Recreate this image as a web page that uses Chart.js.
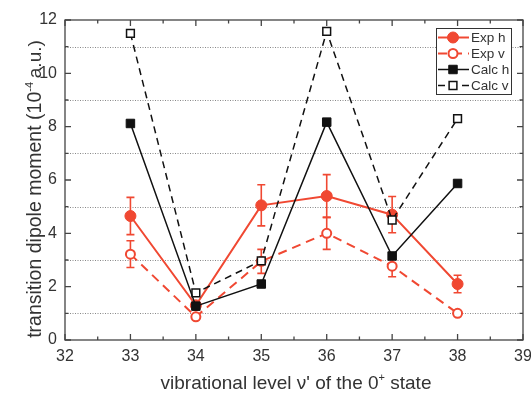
<!DOCTYPE html>
<html>
<head>
<meta charset="utf-8">
<script src="https://cdn.jsdelivr.net/npm/chart.js@4/dist/chart.umd.min.js"></script>
<style>
  html, body { margin: 0; padding: 0; background: #fff; }
  #wrap { width: 531px; height: 394px; }
</style>
</head>
<body>
<div id="wrap"><canvas id="chart" width="531" height="394"></canvas></div>
<script>
// dados
const levels = [33, 34, 35, 36, 37, 38]; // nivel vibracional v'
const expH = [4.65, 1.3, 5.05, 5.4, 4.7, 2.1];
const expHErr = [0.7, 0, 0.77, 0.8, 0.68, 0.33];
const expV = [3.22, 0.87, 2.95, 4.0, 2.77, 1.0];
const expVErr = [0.5, 0, 0.45, 0.6, 0.4, 0];
const calcH = [8.12, 1.27, 2.1, 8.17, 3.15, 5.87];
const calcV = [11.5, 1.77, 2.97, 11.57, 4.5, 8.3];

const xTicks = [32, 33, 34, 35, 36, 37, 38, 39];
const yTicks = [0, 2, 4, 6, 8, 10, 12];
const yGridLines = [1, 3, 5, 7, 9, 11]; // linhas pontilhadas

const red = 'rgb(240, 72, 50)';
const black = '#111';
const frame = '#444';
const textColor = '#333';
const font = '"Liberation Sans", Arial, sans-serif';

function pts(values) {
  return levels.map((x, i) => ({ x: x, y: values[i] }));
}

// barras de erro desenhadas pelas escalas
const errorBars = {
  id: 'errorBars',
  beforeDatasetsDraw(chart) {
    const { ctx, scales: { x, y } } = chart;
    ctx.save();
    ctx.strokeStyle = red;
    ctx.lineWidth = 1.6;
    [[expH, expHErr], [expV, expVErr]].forEach(([vals, errs]) => {
      levels.forEach((lv, i) => {
        if (!errs[i]) return;
        const px = x.getPixelForValue(lv);
        const top = y.getPixelForValue(vals[i] + errs[i]);
        const bot = y.getPixelForValue(vals[i] - errs[i]);
        ctx.beginPath();
        ctx.moveTo(px, top); ctx.lineTo(px, bot);
        ctx.moveTo(px - 4, top); ctx.lineTo(px + 4, top);
        ctx.moveTo(px - 4, bot); ctx.lineTo(px + 4, bot);
        ctx.stroke();
      });
    });
    ctx.restore();
  }
};

// moldura, ticks internos, grade pontilhada
const axesFrame = {
  id: 'axesFrame',
  beforeDatasetsDraw(chart) {
    const { ctx, chartArea: a, scales: { x, y } } = chart;
    ctx.save();
    // grade pontilhada
    ctx.strokeStyle = '#888';
    ctx.lineWidth = 1;
    ctx.setLineDash([1, 1.5]);
    yGridLines.forEach(v => {
      const py = Math.round(y.getPixelForValue(v)) + 0.5;
      ctx.beginPath(); ctx.moveTo(a.left, py); ctx.lineTo(a.right, py); ctx.stroke();
    });
    ctx.setLineDash([]);
    ctx.restore();
  },
  afterDraw(chart) {
    const { ctx, chartArea: a, scales: { x, y } } = chart;
    ctx.save();
    ctx.strokeStyle = frame;
    ctx.lineWidth = 1.3;
    ctx.strokeRect(a.left, a.top, a.right - a.left, a.bottom - a.top);
    ctx.beginPath();
    for (let v = 32; v <= 39; v += 0.5) {
      const px = x.getPixelForValue(v);
      const len = Number.isInteger(v) ? 6 : 3.5;
      ctx.moveTo(px, a.bottom); ctx.lineTo(px, a.bottom - len);
      ctx.moveTo(px, a.top); ctx.lineTo(px, a.top + len);
    }
    for (let v = 0; v <= 12; v += 1) {
      const py = y.getPixelForValue(v);
      const len = v % 2 === 0 ? 6 : 3.5;
      ctx.moveTo(a.left, py); ctx.lineTo(a.left + len, py);
      ctx.moveTo(a.right, py); ctx.lineTo(a.right - len, py);
    }
    ctx.stroke();

    // titulos dos eixos com sobrescrito
    ctx.fillStyle = textColor;
    ctx.textBaseline = 'alphabetic';
    drawRich(ctx, [['vibrational level \u03bd\' of the 0', 19], ['+', 11, -8], [' state', 19]], 296, 389, 0);
    drawRich(ctx, [['transition dipole moment (10', 19.5], ['-4', 11, -8], ['\u2009a.u.)', 19]], 41, 189, -Math.PI / 2);

    // legenda
    const lx = 436, ly = 28, lw = 75, lh = 66;
    ctx.fillStyle = '#fff';
    ctx.fillRect(lx, ly, lw, lh);
    ctx.strokeStyle = '#333';
    ctx.lineWidth = 1;
    ctx.strokeRect(lx + 0.5, ly + 0.5, lw, lh);
    chart.data.datasets.forEach((ds, i) => {
      const cy = ly + 9.5 + i * 16;
      ctx.strokeStyle = ds.borderColor;
      ctx.lineWidth = ds.borderWidth;
      ctx.setLineDash(ds.borderDash || []);
      ctx.beginPath(); ctx.moveTo(lx + 2, cy); ctx.lineTo(lx + 33, cy); ctx.stroke();
      ctx.setLineDash([]);
      ctx.fillStyle = ds.pointBackgroundColor;
      ctx.strokeStyle = ds.pointBorderColor;
      ctx.lineWidth = ds.pointBorderWidth;
      Chart.helpers.drawPoint(ctx, { pointStyle: ds.pointStyle, radius: ds.pointRadius, borderWidth: ds.pointBorderWidth }, lx + 17, cy);
      ctx.fillStyle = textColor;
      ctx.font = '13.5px ' + font;
      ctx.textAlign = 'left';
      ctx.textBaseline = 'middle';
      ctx.fillText(ds.label, lx + 35, cy + 1);
    });
    ctx.restore();
  }
};

function drawRich(ctx, parts, cx, cy, rot) {
  let total = 0;
  parts.forEach(p => { ctx.font = p[1] + 'px ' + font; total += ctx.measureText(p[0]).width; });
  ctx.save();
  ctx.translate(cx, cy);
  ctx.rotate(rot);
  let pos = -total / 2;
  ctx.textAlign = 'left';
  parts.forEach(p => {
    ctx.font = p[1] + 'px ' + font;
    ctx.fillText(p[0], pos, p[2] || 0);
    pos += ctx.measureText(p[0]).width;
  });
  ctx.restore();
}

new Chart(document.getElementById('chart'), {
  type: 'line',
  data: {
    datasets: [
      {
        label: 'Exp h', data: pts(expH), order: 1,
        borderColor: red, borderWidth: 2,
        pointStyle: 'circle', pointRadius: 5.5, pointBorderWidth: 1,
        pointBackgroundColor: red, pointBorderColor: red
      },
      {
        label: 'Exp v', data: pts(expV), order: 1,
        borderColor: red, borderWidth: 2, borderDash: [9, 6],
        pointStyle: 'circle', pointRadius: 4.5, pointBorderWidth: 2,
        pointBackgroundColor: '#fff', pointBorderColor: red
      },
      {
        label: 'Calc h', data: pts(calcH), order: 0,
        borderColor: black, borderWidth: 1.5,
        pointStyle: 'rect', pointRadius: 6, pointBorderWidth: 1,
        pointBackgroundColor: black, pointBorderColor: black
      },
      {
        label: 'Calc v', data: pts(calcV), order: 0,
        borderColor: black, borderWidth: 1.5, borderDash: [7, 5],
        pointStyle: 'rect', pointRadius: 5.5, pointBorderWidth: 1.5,
        pointBackgroundColor: '#fff', pointBorderColor: black
      }
    ]
  },
  options: {
    responsive: false,
    animation: false,
    layout: { padding: { top: 20, right: 0, left: 0, bottom: 0 } },
    plugins: { legend: { display: false }, tooltip: { enabled: false } },
    scales: {
      x: {
        type: 'linear', min: 32, max: 39,
        afterFit: s => { s.height = 54; s.paddingRight = 8; s.paddingLeft = 0; },
        afterBuildTicks: s => { s.ticks = xTicks.map(v => ({ value: v })); },
        grid: { display: false, drawTicks: false },
        border: { display: false },
        ticks: { padding: 7, color: textColor, font: { family: font, size: 16 }, maxRotation: 0, autoSkip: false }
      },
      y: {
        type: 'linear', min: 0, max: 12,
        afterFit: s => { s.width = 65; s.paddingTop = 0; s.paddingBottom = 0; },
        afterBuildTicks: s => { s.ticks = yTicks.map(v => ({ value: v })); },
        grid: { display: false, drawTicks: false },
        border: { display: false },
        ticks: { padding: 8, color: textColor, font: { family: font, size: 16 } }
      }
    }
  },
  plugins: [axesFrame, errorBars]
});
</script>
</body>
</html>
